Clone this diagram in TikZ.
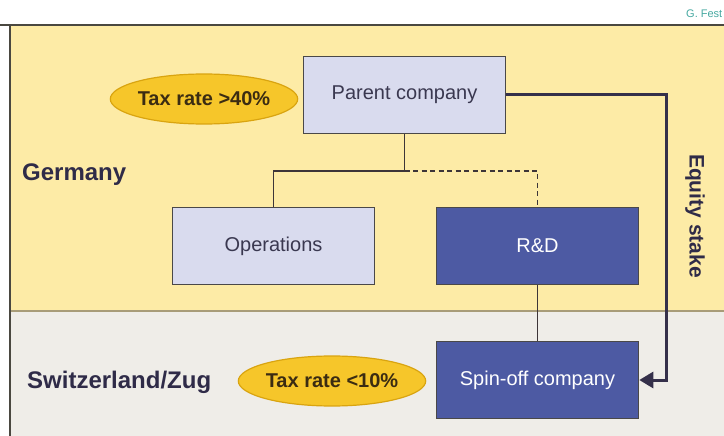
\documentclass[tikz,border=0pt]{standalone}
\usepackage{fontspec}
\setmainfont{Liberation Sans}
\usetikzlibrary{arrows.meta,shapes.geometric}

\definecolor{regionyellow}{HTML}{FDEBA6}
\definecolor{regiongray}{HTML}{EFEDE8}
\definecolor{regionrule}{HTML}{A89C78}
\definecolor{frameline}{HTML}{4A4840}
\definecolor{boxlight}{HTML}{D9DBEE}
\definecolor{boxdark}{HTML}{4D5AA3}
\definecolor{boxline}{HTML}{4A4848}
\definecolor{textdark}{HTML}{3A3850}
\definecolor{countrytext}{HTML}{2F2B48}
\definecolor{ovalgold}{HTML}{F6C62A}
\definecolor{ovalrim}{HTML}{D9A410}
\definecolor{taxtext}{HTML}{3B2C12}
\definecolor{linkline}{HTML}{3D3538}
\definecolor{stakeline}{HTML}{35304A}
\definecolor{creditteal}{HTML}{45A8A0}

\begin{document}
\begin{tikzpicture}[x=1pt,y=-1pt,
        box/.style={rectangle,draw=boxline,line width=1.6pt,minimum width=202pt,minimum height=77pt,inner sep=0pt,font=\fontsize{20}{24}\selectfont},
        lightbox/.style={box,fill=boxlight,text=textdark},
        darkbox/.style={box,fill=boxdark,text=white},
        taxoval/.style={ellipse,fill=ovalgold,draw=ovalrim,line width=1.2pt,minimum width=182pt,minimum height=50pt,inner sep=0pt,text=taxtext,font=\bfseries\fontsize{20}{24}\selectfont},
        country/.style={anchor=west,inner sep=0pt,text=countrytext,font=\bfseries\fontsize{24}{28}\selectfont}]
            \useasboundingbox (0,0) rectangle (724,436);

            % regions
            \fill[regionyellow] (10,26) rectangle (724,311);
            \fill[regiongray] (10,311) rectangle (724,436);
            \draw[regionrule,line width=1.2pt] (10,311) -- (724,311);
            \draw[frameline,line width=1.8pt] (0,25) -- (724,25);
            \draw[frameline,line width=1.4pt] (10,25) -- (10,436);
            \node[anchor=west,inner sep=0pt,text=creditteal,font=\fontsize{11}{13}\selectfont] (credit) at (686,14) {G. Fest};

            \node[country] (germany) at (22,175) {Germany};
            \node[country] (swiss) at (27,382) {Switzerland/Zug};

            \node[taxoval] (taxhigh) at (204,99) {Tax rate >40\%};
            \node[taxoval] (taxlow) at (332,381) {Tax rate <10\%};

            \node[lightbox] (parent) at (404.5,95) {Parent company};
            \node[lightbox] (ops) at (273.5,246) {Operations};
            \node[darkbox] (rnd) at (537.5,246) {R\&D};
            \node[darkbox] (spin) at (537.5,380) {Spin-off company};

            \node[rotate=-90,inner sep=0pt,text=countrytext,font=\bfseries\fontsize{21}{25}\selectfont] (stake) at (695,216) {Equity stake};

            \coordinate (fork) at (parent.south |- 0,171);
            \draw[linkline,line width=1.8pt] (parent.south) -- (fork) -| (ops.north);
            \draw[linkline,line width=1.6pt,dash pattern=on 5pt off 3.5pt] (fork) -| (rnd.north);
            \draw[linkline,line width=0.9pt] (rnd.south) -- (spin.north);
            \draw[stakeline,line width=3pt,-{Triangle[length=14pt,width=16pt]}] (parent.east) -- ++(160,0) |- (spin.east);
        \end{tikzpicture}
\end{document}
